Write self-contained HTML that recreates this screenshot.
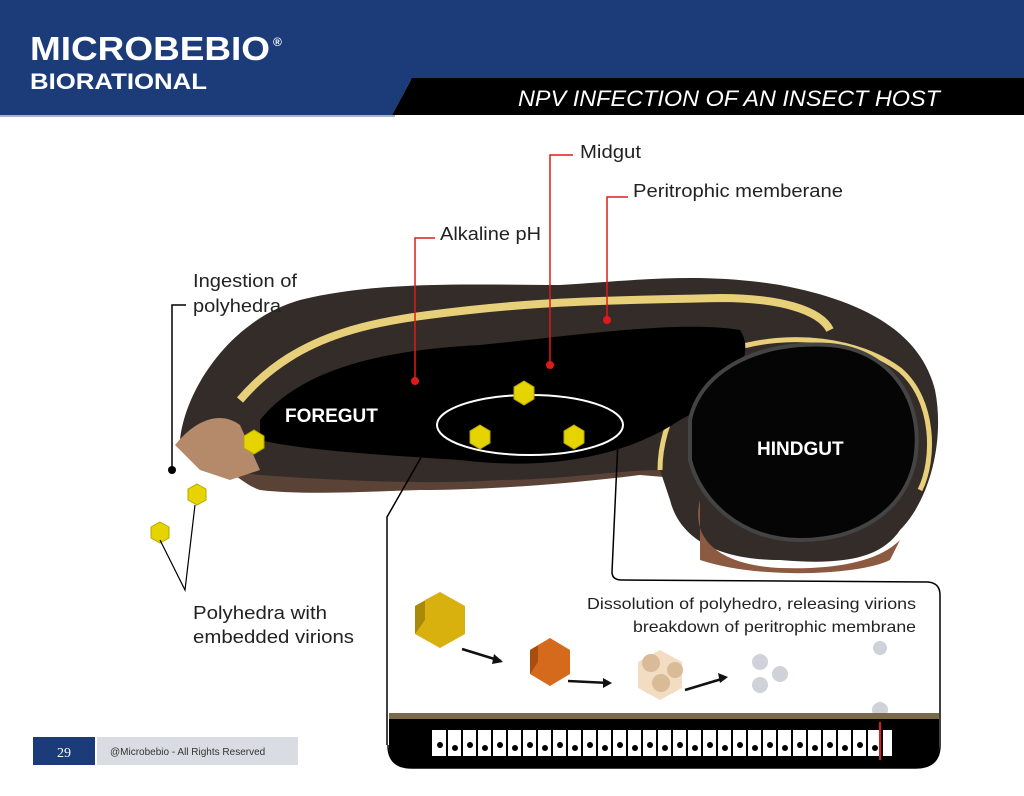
<!DOCTYPE html>
<html><head><meta charset="utf-8"><style>
body{margin:0;width:1024px;height:791px;overflow:hidden;background:#fff;font-family:"Liberation Sans",sans-serif}
</style></head><body>
<svg width="1024" height="791" viewBox="0 0 1024 791" xmlns="http://www.w3.org/2000/svg" font-family="Liberation Sans, sans-serif">
<rect width="1024" height="791" fill="#fff"/>
<rect x="0" y="0" width="1024" height="80" fill="#1b3c78"/>
<polygon points="0,78 412,78 392,115 0,115" fill="#1b3c78"/>
<polygon points="412,78 1024,78 1024,115 392,115" fill="#000"/>
<rect x="0" y="115" width="395" height="2" fill="#a9b4c8"/>
<text x="30" y="60" font-size="33" font-weight="bold" fill="#fff" textLength="240" lengthAdjust="spacingAndGlyphs">MICROBEBIO</text>
<text x="273" y="46" font-size="12" font-weight="bold" fill="#fff">®</text>
<text x="30" y="89" font-size="22" font-weight="bold" fill="#fff" textLength="177" lengthAdjust="spacingAndGlyphs">BIORATIONAL</text>
<text x="518" y="106" font-size="22" font-style="italic" fill="#fff" textLength="422" lengthAdjust="spacingAndGlyphs">NPV INFECTION OF AN INSECT HOST</text>

<path d="M200,470 C210,440 230,480 260,490 C300,495 360,492 420,490 C480,490 560,485 640,475 L700,480 L690,440 Z" fill="#5a4336"/>
<path d="M180,440 C185,390 230,320 300,300 C380,280 480,285 560,285 C640,280 700,272 780,285 C860,300 920,330 935,390 C945,440 930,500 900,530 C880,560 840,565 780,560 C720,560 680,540 670,500 L660,470 C620,470 560,480 500,480 C420,485 330,480 260,475 C220,470 190,460 180,440 Z" fill="#332c28"/>
<path d="M175,445 C195,420 220,410 240,425 L260,470 L230,480 L200,470 Z" fill="#b58a6b"/>
<path d="M700,500 C690,540 720,565 780,568 C840,570 880,560 900,540 L890,560 C860,575 760,580 700,560 Z" fill="#8b5a40"/>
<path d="M240,400 C300,330 380,320 470,310 C560,300 640,300 720,298 C780,298 820,310 830,330" fill="none" stroke="#e8cf7a" stroke-width="8"/>
<path d="M660,470 C660,420 690,370 730,350 C790,330 860,340 900,370 C935,400 935,460 920,490" fill="none" stroke="#e8cf7a" stroke-width="5"/>
<path d="M260,420 C300,370 380,350 480,345 C580,335 680,320 740,330 C760,360 720,400 680,420 C620,460 540,470 460,460 C380,455 300,450 260,440 Z" fill="#000"/>
<path d="M690,420 C700,370 760,340 830,345 C890,350 925,400 915,460 C905,510 860,540 800,540 C740,540 700,500 690,460 Z" fill="#050505" stroke="#444" stroke-width="4"/>
<text x="285" y="422" font-size="19" font-weight="bold" fill="#fff">FOREGUT</text>
<text x="757" y="455" font-size="19" font-weight="bold" fill="#fff">HINDGUT</text>
<ellipse cx="530" cy="425" rx="93" ry="30" fill="none" stroke="#fff" stroke-width="2"/>
<g fill="#e6d400" stroke="#b8a800">
<polygon points="524,381 534,387 534,399 524,405 514,399 514,387"/>
<polygon points="480,425 490,431 490,443 480,449 470,443 470,431"/>
<polygon points="574,425 584,431 584,443 574,449 564,443 564,431"/>
<polygon points="254,430 264,436 264,448 254,454 244,448 244,436"/>
<polygon points="197,484 206,489 206,500 197,505 188,500 188,489"/>
<polygon points="160,522 169,527 169,538 160,543 151,538 151,527"/>
</g>
<g font-size="18" fill="#222">
<text x="580" y="158" textLength="61" lengthAdjust="spacingAndGlyphs">Midgut</text>
<text x="633" y="197" textLength="210" lengthAdjust="spacingAndGlyphs">Peritrophic memberane</text>
<text x="440" y="240" textLength="101" lengthAdjust="spacingAndGlyphs">Alkaline pH</text>
<text x="193" y="287" textLength="104" lengthAdjust="spacingAndGlyphs">Ingestion of</text>
<text x="193" y="312" textLength="88" lengthAdjust="spacingAndGlyphs">polyhedra</text>
<text x="193" y="619" textLength="134" lengthAdjust="spacingAndGlyphs">Polyhedra with</text>
<text x="193" y="643" textLength="161" lengthAdjust="spacingAndGlyphs">embedded virions</text>
</g>
<g stroke="#e01a1a" stroke-width="1.5" fill="none">
<polyline points="573,155 550,155 550,365"/>
<polyline points="628,197 607,197 607,320"/>
<polyline points="435,238 415,238 415,380"/>
</g>
<g fill="#e01a1a"><circle cx="550" cy="365" r="4"/><circle cx="607" cy="320" r="4"/><circle cx="415" cy="381" r="4"/></g>
<polyline points="186,305 172,305 172,470" stroke="#000" stroke-width="1.5" fill="none"/>
<circle cx="172" cy="470" r="4" fill="#000"/>
<polyline points="160,540 185,590 195,505" stroke="#000" stroke-width="1.2" fill="none"/>
<polyline points="427,447 387,517 387,745" stroke="#000" stroke-width="1.5" fill="none"/>
<path d="M618,440 L612,572 Q612,580 622,580 L928,582 Q940,583 940,595 L940,745 Q940,768 915,768 L412,768 Q388,768 388,745" stroke="#000" stroke-width="1.5" fill="none"/>
<text x="916" y="609" font-size="16" fill="#222" text-anchor="end" textLength="329" lengthAdjust="spacingAndGlyphs">Dissolution of polyhedro, releasing virions</text>
<text x="916" y="632" font-size="16" fill="#222" text-anchor="end" textLength="283" lengthAdjust="spacingAndGlyphs">breakdown of peritrophic membrane</text>
<polygon points="440,592 465,606 465,634 440,648 415,634 415,606" fill="#d8b10e"/>
<polygon points="440,592 415,606 415,634 425,620 425,600" fill="#a88a08"/>
<polygon points="550,638 570,650 570,674 550,686 530,674 530,650" fill="#d66a1c"/>
<polygon points="550,638 530,650 530,674 538,662 538,645" fill="#a84e10"/>
<polygon points="660,650 682,662 682,688 660,700 638,688 638,662" fill="#f2ddc2"/>
<g fill="#d9bb98"><circle cx="651" cy="663" r="9"/><circle cx="661" cy="683" r="9"/><circle cx="675" cy="670" r="8"/></g>
<g fill="#cfd2d8"><circle cx="760" cy="662" r="8"/><circle cx="780" cy="674" r="8"/><circle cx="760" cy="685" r="8"/><circle cx="880" cy="648" r="7"/><circle cx="880" cy="710" r="8"/></g>
<g stroke="#111" stroke-width="2.5" fill="none">
<line x1="462" y1="649" x2="501" y2="661"/><line x1="568" y1="681" x2="609" y2="683"/><line x1="685" y1="690" x2="725" y2="678"/>
</g>
<g fill="#111"><polygon points="503,662 494,654 492,664"/><polygon points="612,683 603,678 603,688"/><polygon points="728,677 718,673 720,683"/></g>
<rect x="389" y="713" width="550" height="6" fill="#7a6a4a"/>
<path d="M389,719 L939,719 L939,748 Q939,768 918,768 L410,768 Q389,768 389,748 Z" fill="#000"/>
<rect x="432" y="730" width="460" height="26" fill="#fff"/>
<g stroke="#000" stroke-width="2">
<line x1="447" y1="730" x2="447" y2="762"/><line x1="462" y1="730" x2="462" y2="762"/><line x1="477" y1="730" x2="477" y2="762"/><line x1="492" y1="730" x2="492" y2="762"/><line x1="507" y1="730" x2="507" y2="762"/><line x1="522" y1="730" x2="522" y2="762"/><line x1="537" y1="730" x2="537" y2="762"/><line x1="552" y1="730" x2="552" y2="762"/><line x1="567" y1="730" x2="567" y2="762"/><line x1="582" y1="730" x2="582" y2="762"/><line x1="597" y1="730" x2="597" y2="762"/><line x1="612" y1="730" x2="612" y2="762"/><line x1="627" y1="730" x2="627" y2="762"/><line x1="642" y1="730" x2="642" y2="762"/><line x1="657" y1="730" x2="657" y2="762"/><line x1="672" y1="730" x2="672" y2="762"/><line x1="687" y1="730" x2="687" y2="762"/><line x1="702" y1="730" x2="702" y2="762"/><line x1="717" y1="730" x2="717" y2="762"/><line x1="732" y1="730" x2="732" y2="762"/><line x1="747" y1="730" x2="747" y2="762"/><line x1="762" y1="730" x2="762" y2="762"/><line x1="777" y1="730" x2="777" y2="762"/><line x1="792" y1="730" x2="792" y2="762"/><line x1="807" y1="730" x2="807" y2="762"/><line x1="822" y1="730" x2="822" y2="762"/><line x1="837" y1="730" x2="837" y2="762"/><line x1="852" y1="730" x2="852" y2="762"/><line x1="867" y1="730" x2="867" y2="762"/><line x1="882" y1="730" x2="882" y2="762"/>
</g>
<g fill="#000">
<circle cx="440" cy="745" r="3"/><circle cx="455" cy="748" r="3"/><circle cx="470" cy="745" r="3"/><circle cx="485" cy="748" r="3"/><circle cx="500" cy="745" r="3"/><circle cx="515" cy="748" r="3"/><circle cx="530" cy="745" r="3"/><circle cx="545" cy="748" r="3"/><circle cx="560" cy="745" r="3"/><circle cx="575" cy="748" r="3"/><circle cx="590" cy="745" r="3"/><circle cx="605" cy="748" r="3"/><circle cx="620" cy="745" r="3"/><circle cx="635" cy="748" r="3"/><circle cx="650" cy="745" r="3"/><circle cx="665" cy="748" r="3"/><circle cx="680" cy="745" r="3"/><circle cx="695" cy="748" r="3"/><circle cx="710" cy="745" r="3"/><circle cx="725" cy="748" r="3"/><circle cx="740" cy="745" r="3"/><circle cx="755" cy="748" r="3"/><circle cx="770" cy="745" r="3"/><circle cx="785" cy="748" r="3"/><circle cx="800" cy="745" r="3"/><circle cx="815" cy="748" r="3"/><circle cx="830" cy="745" r="3"/><circle cx="845" cy="748" r="3"/><circle cx="860" cy="745" r="3"/><circle cx="875" cy="748" r="3"/>
</g>
<line x1="880" y1="722" x2="880" y2="760" stroke="#e01a1a" stroke-width="2"/>
<rect x="33" y="737" width="62" height="28" fill="#1b3c78"/>
<text x="64" y="757" font-size="14" fill="#fff" text-anchor="middle" font-family="Liberation Serif, serif">29</text>
<rect x="97" y="737" width="201" height="28" fill="#d9dde3"/>
<text x="110" y="755" font-size="10" fill="#333">@Microbebio - All Rights Reserved</text>
</svg>
</body></html>
